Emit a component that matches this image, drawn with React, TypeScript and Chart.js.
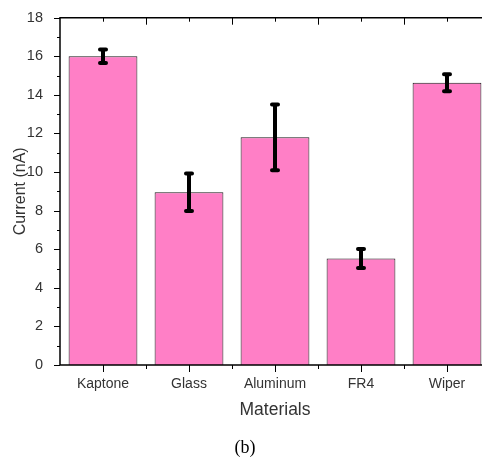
import React, { useEffect, useRef } from "react";
import { Chart, registerables } from "chart.js";

Chart.register(...registerables);

const categories = ["Kaptone", "Glass", "Aluminum", "FR4", "Wiper"];
const currentValues = [16.0, 8.95, 11.8, 5.52, 14.63];
const currentErrors = [0.35, 0.97, 1.7, 0.49, 0.44];
const yTickValues = [0, 2, 4, 6, 8, 10, 12, 14, 16, 18];

const FONT = "'Liberation Sans', Arial, sans-serif";
const TEXT = "#333";

const framePlugin = {
  id: "framePlugin",
  afterDatasetsDraw(chart: any) {
    const { ctx, chartArea, scales } = chart;
    const x = scales.x;
    const y = scales.y;
    const { left, top, bottom } = chartArea;
    const right = chart.width;
    ctx.save();
    // error bars
    ctx.strokeStyle = "#000";
    currentValues.forEach((v, i) => {
      const px = x.getPixelForValue(i);
      const yt = y.getPixelForValue(v + currentErrors[i]);
      const yb = y.getPixelForValue(v - currentErrors[i]);
      ctx.lineCap = "butt";
      ctx.lineWidth = 4;
      ctx.beginPath();
      ctx.moveTo(px, yt);
      ctx.lineTo(px, yb);
      ctx.stroke();
      ctx.lineWidth = 4;
      ctx.lineCap = "round";
      ctx.beginPath();
      ctx.moveTo(px - 3, yt);
      ctx.lineTo(px + 3, yt);
      ctx.moveTo(px - 3, yb);
      ctx.lineTo(px + 3, yb);
      ctx.stroke();
    });
    ctx.lineCap = "butt";
    // axes lines
    ctx.strokeStyle = "#000";
    ctx.lineWidth = 1.5;
    ctx.beginPath();
    ctx.moveTo(left, top);
    ctx.lineTo(left, bottom);
    ctx.moveTo(left - 0.75, bottom);
    ctx.lineTo(right, bottom);
    ctx.moveTo(left - 0.75, top);
    ctx.lineTo(right, top);
    ctx.stroke();
    // y ticks
    ctx.lineWidth = 1;
    ctx.beginPath();
    for (let v = 0; v <= 18; v += 1) {
      const py = Math.round(y.getPixelForValue(v)) + 0.5;
      const len = v % 2 === 0 ? 6 : 3;
      ctx.moveTo(left, py);
      ctx.lineTo(left - len, py);
    }
    // x ticks: centers long at bottom, boundaries short; top reversed (inward)
    const n = categories.length;
    for (let i = 0; i < n; i++) {
      const c = Math.round(x.getPixelForValue(i)) + 0.5;
      ctx.moveTo(c, bottom);
      ctx.lineTo(c, bottom + 7);
      ctx.moveTo(c, top);
      ctx.lineTo(c, top + 4);
      const b = Math.round(x.getPixelForValue(i + 0.5)) + 0.5;
      ctx.moveTo(b, bottom);
      ctx.lineTo(b, bottom + 4);
      ctx.moveTo(b, top);
      ctx.lineTo(b, top + 7);
    }
    ctx.stroke();
    ctx.restore();
  },
};

export default function App() {
  const ref = useRef<HTMLCanvasElement | null>(null);
  useEffect(() => {
    if (!ref.current) return;
    const chart = new Chart(ref.current, {
      type: "bar",
      data: {
        labels: categories,
        datasets: [
          {
            data: currentValues,
            backgroundColor: "#FF7FC6",
            borderColor: "#1a1a1a",
            borderWidth: 1,
            barPercentage: 0.8,
            categoryPercentage: 1,
          },
        ],
      },
      options: {
        animation: false,
        responsive: false,
        devicePixelRatio: 1,
        layout: { padding: { top: 17, left: 0, right: 10, bottom: 0 } },
        plugins: {
          legend: { display: false },
          tooltip: { enabled: false },
          title: {
            display: true,
            position: "bottom",
            text: "(b)",
            color: "#000",
            font: { family: "'Liberation Serif', 'Times New Roman', serif", size: 18, weight: "normal" },
            padding: { top: 0, bottom: 4 },
          },
        },
        scales: {
          x: {
            grid: { display: false },
            border: { display: false },
            ticks: { color: TEXT, font: { family: FONT, size: 14 }, padding: 3 },
            title: {
              display: true,
              text: "Materials",
              color: TEXT,
              font: { family: FONT, size: 17.5 },
              padding: { top: 0, bottom: 17 },
            },
            afterFit: (s: any) => {
              s.height = 72.4;
            },
          },
          y: {
            min: 0,
            max: 18,
            grid: { display: false },
            border: { display: false },
            afterBuildTicks: (s: any) => {
              s.ticks = yTickValues.map((v) => ({ value: v }));
            },
            ticks: { color: TEXT, font: { family: FONT, size: 14.5 }, padding: 9 },
            title: {
              display: true,
              text: "Current (nA)",
              color: TEXT,
              font: { family: FONT, size: 16 },
              padding: { top: 11, bottom: 0 },
            },
            afterFit: (s: any) => {
              s.width = 60;
            },
          },
        },
      },
      plugins: [framePlugin],
    });
    return () => chart.destroy();
  }, []);
  return (
    <div
      style={{
        position: "fixed",
        left: 0,
        top: 0,
        width: 482,
        height: 463,
        overflow: "hidden",
        background: "#fff",
      }}
    >
      <canvas ref={ref} width={500} height={463} style={{ display: "block" }} />
    </div>
  );
}
